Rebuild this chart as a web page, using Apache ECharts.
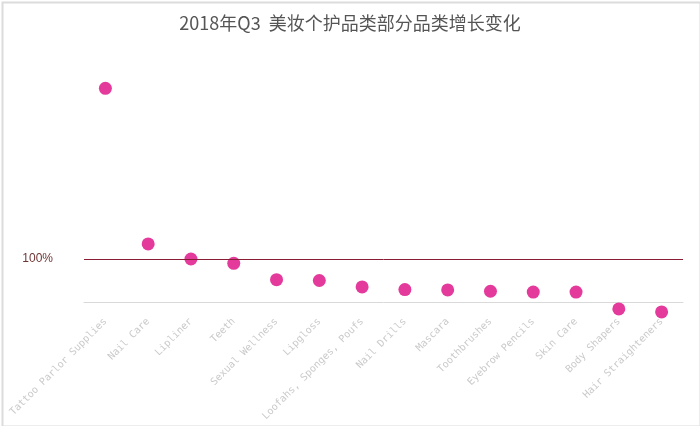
<!DOCTYPE html>
<html>
<head>
<meta charset="utf-8">
<script src="https://cdn.jsdelivr.net/npm/echarts@6/dist/echarts.min.js"></script>
<style>
  html, body { margin: 0; padding: 0; background: #fff; }
  #main { width: 700px; height: 426px; }
</style>
</head>
<body>
<div id="main"></div>
<script>
var categories = ['Tattoo Parlor Supplies', 'Nail Care', 'Lipliner', 'Teeth', 'Sexual Wellness',
  'Lipgloss', 'Loofahs, Sponges, Poufs', 'Nail Drills', 'Mascara', 'Toothbrushes',
  'Eyebrow Pencils', 'Skin Care', 'Body Shapers', 'Hair Straighteners'];
// 增长率 (%)
var growth = [497, 135, 100, 90, 52, 50, 35, 29, 28, 25, 23, 23, -16, -23];
var refLine = 100;

var myChart = echarts.init(document.getElementById('main'));
var option = {
  backgroundColor: '#fff',
  title: {
    text: '2018年Q3  美妆个护品类部分品类增长变化',
    left: 'center',
    top: 9,
    textStyle: {
      fontFamily: 'Noto Sans CJK SC',
      fontSize: 18,
      fontWeight: 'normal',
      color: '#555'
    }
  },
  grid: {
    left: 84,
    right: 17,
    top: 87,
    bottom: 81,
    containLabel: false,
    outerBoundsMode: 'none'
  },
  xAxis: {
    type: 'category',
    data: categories,
    boundaryGap: true,
    axisLine: { onZero: true, lineStyle: { color: '#d9d9d9' } },
    axisTick: { show: false },
    splitLine: { show: false },
    axisLabel: {
      rotate: 45,
      interval: 0,
      margin: -25,
      color: '#cacaca',
      fontSize: 10,
      fontFamily: 'DejaVu Sans Mono'
    }
  },
  yAxis: {
    type: 'value',
    show: false,
    min: -100,
    max: 500,
    splitLine: { show: false }
  },
  series: [
    {
      name: '增长',
      type: 'scatter',
      data: growth,
      symbol: 'circle',
      symbolSize: 13,
      itemStyle: { color: '#e43a9b', opacity: 1 },
      markLine: {
        silent: true,
        symbol: 'none',
        data: [{ yAxis: refLine }],
        lineStyle: { color: '#8a1d36', width: 1, type: 'solid', opacity: 1 },
        label: {
          position: 'start',
          distance: 31,
          formatter: '100%',
          color: '#6e3535',
          fontSize: 12,
          fontFamily: 'Liberation Sans'
        }
      }
    }
  ],
  graphic: [
    {
      type: 'rect',
      left: 0, top: 0,
      shape: { width: 698, height: 424 },
      style: { fill: 'none', stroke: '#dcdcdc', lineWidth: 2 },
      silent: true
    }
  ]
};
myChart.setOption(option);
window.onresize = myChart.resize;
</script>
</body>
</html>
